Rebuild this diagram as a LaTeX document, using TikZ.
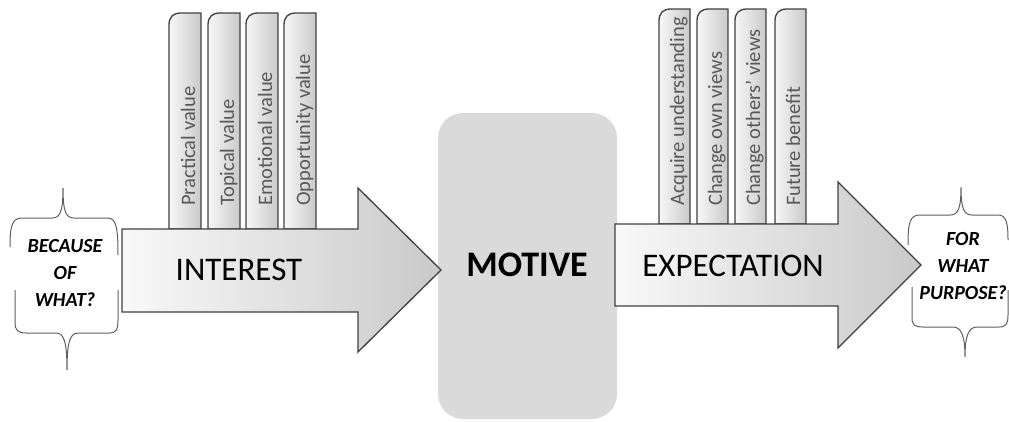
\documentclass[tikz,border=0pt]{standalone}
\usepackage{fontspec}
\setmainfont{Carlito}
\usepackage{tikz}
\usetikzlibrary{positioning}
\usepackage{xcolor}
\definecolor{EdgeGray}{RGB}{64,64,64}
\definecolor{LabelGray}{RGB}{89,89,89}
\definecolor{BraceGray}{RGB}{95,95,95}
\definecolor{MotiveGray}{RGB}{218,218,218}

\begin{document}
\begin{tikzpicture}[x=1pt,y=-1pt,
  edge/.style={draw=EdgeGray,line width=1.3pt,line join=miter},
  arrowbody/.style={edge,left color=gray!5,right color=gray!42},
  tabshape/.style={edge,left color=gray!6,right color=gray!42},
  tablabel/.style={rotate=90,anchor=base west,inner sep=0,text=LabelGray,
                   font=\fontsize{20.5}{24}\selectfont},
  bigword/.style={anchor=base,inner sep=0,font=\fontsize{33}{40}\selectfont},
  brace/.style={draw=BraceGray,line width=1pt},
  question/.style={align=center,inner sep=0,
                   font=\fontsize{20}{27}\selectfont\bfseries\itshape},
]
\useasboundingbox (0,0) rectangle (1009,421);
% motive block
\path[fill=MotiveGray,rounded corners=25pt] (438,113) rectangle (617,419);
% tabs above the interest arrow
\foreach \x/\t [count=\i] in {169/Practical value,208/Topical value,
    246/Emotional value,284/Opportunity value}{
  \path[tabshape] (\x,229) -- (\x,25) .. controls (\x,17) and (\x+4,13) .. (\x+12,13)
    -- (\x+32,13) -- (\x+32,229) -- cycle;
  \node[tablabel] (interest-\i) at (\x+26,206) {\t};
}
% tabs above the expectation arrow
\foreach \x/\t [count=\i] in {659/Acquire understanding,697/Change own views,
    735/Change others’ views,775/Future benefit}{
  \path[tabshape] (\x,224) -- (\x,21) .. controls (\x,13) and (\x+4,9) .. (\x+12,9)
    -- (\x+31,9) -- (\x+31,224) -- cycle;
  \node[tablabel] (expect-\i) at (\x+25,206) {\t};
}
% the two block arrows
\path[arrowbody] (122,229) -- (358,229) -- (358,188) -- (441,270)
  -- (358,352) -- (358,312) -- (122,312) -- cycle;
\path[arrowbody] (615,224) -- (838,224) -- (838,182) -- (921,265)
  -- (838,348) -- (838,306) -- (615,306) -- cycle;
\node[bigword] (interest) at (239,280) {INTEREST};
\node[bigword] (expectation) at (733,276) {EXPECTATION};
\node[bigword,font=\fontsize{36}{40}\selectfont\bfseries] (motive) at (527,276) {MOTIVE};
% left brace pair
\draw[brace] (10,247) .. controls (10,226) and (12,218) .. (22,218) -- (52,218)
  .. controls (60,218) and (63,212) .. (63,188)
  .. controls (63,212) and (66,218) .. (74,218) -- (107,218)
  .. controls (116,218) and (118,226) .. (118,255);
\draw[brace] (15,290) -- (15,323) .. controls (15,330) and (18,333) .. (26,333) -- (56,333)
  .. controls (64,333) and (67,342) .. (67,370)
  .. controls (67,342) and (70,333) .. (78,333) -- (109,333)
  .. controls (116,333) and (118,330) .. (118,320) -- (118,290);
\node[question] (because) at (65,273) {BECAUSE\\OF\\WHAT?};
% right brace pair
\draw[brace] (908,245) .. controls (908,222) and (910,215) .. (920,215) -- (950,215)
  .. controls (958,215) and (961,209) .. (961,187)
  .. controls (961,209) and (964,215) .. (972,215) -- (998,215)
  .. controls (1006,215) and (1008,222) .. (1008,240);
\draw[brace] (912,287) -- (912,318) .. controls (912,325) and (915,327) .. (923,327) -- (953,327)
  .. controls (961,327) and (965,335) .. (965,357)
  .. controls (965,335) and (969,327) .. (977,327) -- (999,327)
  .. controls (1006,327) and (1008,324) .. (1008,315) -- (1008,290);
\node[question] (purpose) at (963,266) {FOR\\WHAT\\PURPOSE?};
\end{tikzpicture}
\end{document}
